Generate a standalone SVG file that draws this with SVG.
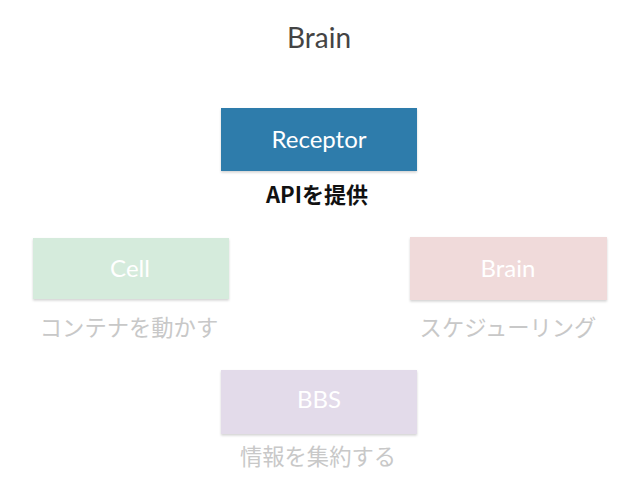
<svg xmlns="http://www.w3.org/2000/svg" width="638" height="479" viewBox="0 0 638 479">
<defs>
<filter id="sh" x="-5%" y="-10%" width="110%" height="125%">
<feDropShadow dx="0" dy="1.5" stdDeviation="1.2" flood-color="#000" flood-opacity="0.18"/>
</filter>
<style>
.box{filter:url(#sh)}
.lbl{font-family:Lato,"Noto Sans","Noto Sans CJK JP",sans-serif;font-size:24px;fill:#ffffff;text-anchor:middle}
.sub{font-family:"Noto Sans CJK JP",sans-serif;font-size:22.3px;fill:#c8c8c8;text-anchor:middle}
.title{font-family:Lato,"Noto Sans",sans-serif;font-size:28px;fill:#444444;text-anchor:middle}
</style>
</defs>
<rect width="638" height="479" fill="#ffffff"/>
<text class="title" x="319" y="48">Brain</text>
<g id="receptor">
<rect class="box" x="221" y="108" width="196" height="63" fill="#2f7bab"/>
<text class="lbl" x="319" y="148">Receptor</text>
<text x="317" y="203" font-family="'Noto Sans CJK JP',sans-serif" font-size="22" font-weight="bold" fill="#111111" text-anchor="middle">APIを提供</text>
</g>
<g id="cell">
<rect class="box" x="33" y="238" width="196" height="61" fill="#d5ebdc"/>
<text class="lbl" x="130" y="277">Cell</text>
<text class="sub" x="129" y="336">コンテナを動かす</text>
</g>
<g id="brain">
<rect class="box" x="410" y="237" width="197" height="63" fill="#f0dada"/>
<text class="lbl" x="508" y="277">Brain</text>
<text class="sub" x="508" y="336">スケジューリング</text>
</g>
<g id="bbs">
<rect class="box" x="221" y="370" width="196" height="64" fill="#e3dbea"/>
<text class="lbl" x="319" y="408">BBS</text>
<text class="sub" x="318" y="465">情報を集約する</text>
</g>
<g id="connectors"></g>
</svg>
